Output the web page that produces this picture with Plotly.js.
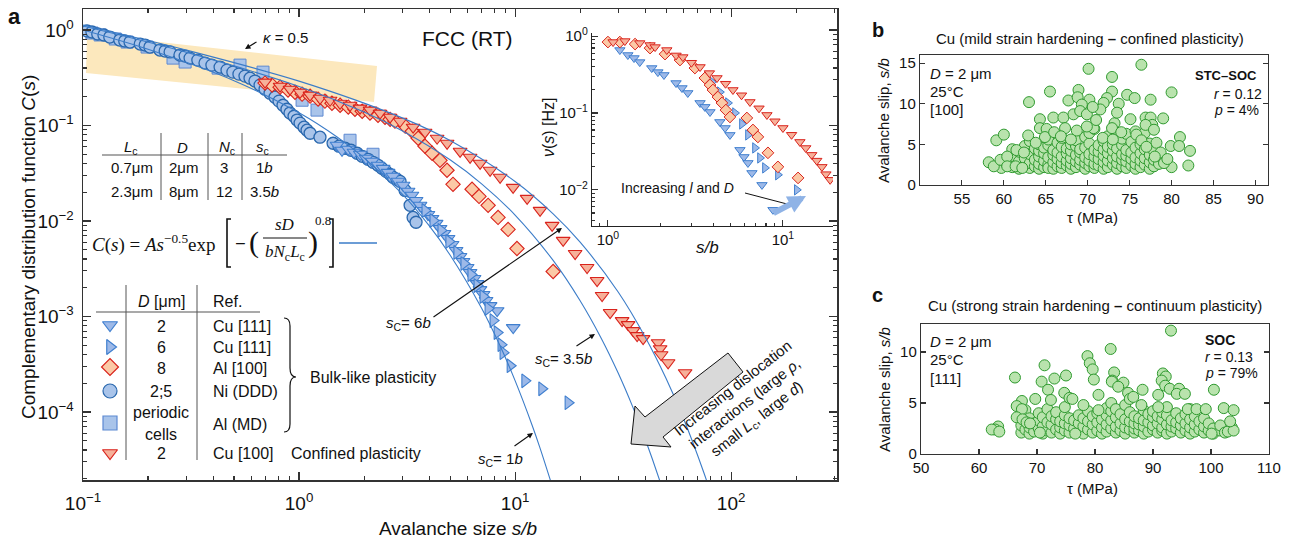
<!DOCTYPE html>
<html><head><meta charset="utf-8">
<script src="https://cdn.plot.ly/plotly-3.0.1.min.js"></script>
<style>html,body{margin:0;padding:0;background:#fff}</style>
</head><body><div id="chart" style="width:1295px;height:543px"></div>
<script>
// ---------------- DATA: panel a (C(s) vs s/b) ----------------
const niDDD_s = [0.1044,0.110,0.117,0.125,0.133,0.148,0.156,0.165,0.184,0.194,0.204,0.227,0.240,0.253,0.281,0.297,0.313,0.340,0.367,0.395,0.431,0.464,0.494,0.527,0.562,0.593,0.625,0.660,0.696,0.734,0.774,0.808,0.843,0.879,0.908,0.948,0.979,1.011,1.055,1.089,1.125,1.25,1.437,1.531,1.633,1.740,1.857,1.960,2.086,2.20,2.321,2.42,2.528,2.64,2.723,2.84,2.935,3.097,3.266,3.372,3.48];
const niDDD_C = [0.976,0.953,0.908,0.887,0.844,0.785,0.767,0.748,0.713,0.696,0.663,0.617,0.602,0.589,0.547,0.533,0.508,0.484,0.451,0.429,0.409,0.380,0.362,0.345,0.329,0.313,0.292,0.265,0.240,0.218,0.198,0.180,0.163,0.148,0.135,0.125,0.114,0.106,0.096,0.0893,0.083,0.0754,0.0652,0.0607,0.0578,0.0551,0.0512,0.0476,0.0443,0.0412,0.0383,0.0356,0.0331,0.0308,0.0287,0.0273,0.0260,0.0209,0.0146,0.0109,0.0097];

const alMD_s = [0.110,0.120,0.141,0.160,0.198,0.261,0.297,0.422,0.533,0.681,1.033,1.211,1.722,2.20];
const alMD_C = [0.93,0.887,0.805,0.748,0.663,0.508,0.462,0.399,0.429,0.362,0.184,0.145,0.0701,0.050];

const cu111D2_s = [1.50,1.581,1.69,1.797,1.92,2.042,2.18,2.321,2.45,2.582,2.72,2.873,3.03,3.196,3.33,3.482,3.63,3.791,3.95,4.128,4.31,4.497,4.69,4.896,5.11,5.333,5.56,5.743,6.00,6.19,6.46,6.672,6.88,7.111,7.34,7.662,8.26,9.80];
const cu111D2_C = [0.0621,0.0551,0.0564,0.0525,0.0500,0.0454,0.0422,0.0383,0.0356,0.0323,0.0294,0.0261,0.0237,0.0205,0.0186,0.0164,0.0146,0.0129,0.0117,0.01064,0.00944,0.00836,0.00741,0.00656,0.00568,0.00491,0.00425,0.00377,0.00326,0.00289,0.0025,0.00221,0.00191,0.0017,0.00147,0.0013,0.00115,0.000765];

const cu111D6_s = [3.83,4.17,4.54,4.94,5.38,5.80,6.25,6.67,7.11,7.50,7.91,8.26,8.61,8.80,9.49,11.1,13.3,17.6];
const cu111D6_C = [0.0129,0.0101,0.00797,0.00611,0.00469,0.00359,0.00275,0.00211,0.00162,0.00121,0.000906,0.000678,0.000507,0.000418,0.000305,0.000212,0.000175,0.000125];

const al100_s = [0.696,0.750,0.817,0.889,0.958,1.033,1.125,1.225,1.318,1.42,1.549,1.69,1.815,1.96,2.13,2.32,2.50,2.64,2.78,3.10,3.34,3.56,3.83,4.13,4.49,4.84,5.16,6.32,6.81,7.50,8.34,9.28,10.2,15.0];
const al100_C = [0.278,0.265,0.252,0.235,0.223,0.213,0.203,0.189,0.180,0.171,0.163,0.156,0.148,0.141,0.135,0.128,0.122,0.116,0.111,0.0984,0.0871,0.0736,0.0607,0.0512,0.0432,0.034,0.0242,0.0215,0.0181,0.0146,0.0109,0.00816,0.00515,0.00296];

const cu100_s = [0.696,0.817,0.908,1.011,1.124,1.251,1.392,1.548,1.722,1.916,2.132,2.371,2.638,2.935,3.372,3.831,4.355,4.845,5.565,6.19,6.887,7.662,8.523,9.79,11.37,13.05,14.84,16.69,18.96,21.54,23.97,25.28,27.54,31.29,33.35,35.18,36.72,39.14,45.92,46.91,47.42,51.08,61.24];
const cu100_C = [0.2845,0.258,0.240,0.223,0.208,0.193,0.184,0.171,0.163,0.152,0.145,0.1346,0.1222,0.1109,0.0960,0.0851,0.0736,0.0652,0.0537,0.0465,0.0402,0.0340,0.0287,0.0225,0.01727,0.01291,0.0090,0.00627,0.00457,0.00326,0.00238,0.00166,0.0011,0.000906,0.000822,0.000711,0.000631,0.000586,0.000532,0.00046,0.000398,0.000328,0.000258];

// fitted curves C(s)=A s^-0.5 exp[-(s/sc)^0.8]
const fit1_s = [0.1,0.2,0.5,1,1.5,2,3,4,5,7,8.5,10,12,13,14.5,15.5];
const fit1_C = [0.999,0.628,0.295,0.136,0.0758,0.0459,0.0192,0.00893,0.00441,0.00122,0.000499,0.000213,0.0000723,0.0000429,0.0000199,0.0000121];
const fit35_s = [0.1,0.3,1,2,3,5,7,10,15,20,25,30,35,40,47,52];
const fit35_C = [1.104,0.587,0.2564,0.1381,0.0882,0.04375,0.02452,0.01154,0.003866,0.001463,0.000597,0.000256,0.0001138,0.0000521,0.00001835,0.0000089];
const fit6_s = [0.1,0.3,1,3,5,10,15,20,30,40,50,60,75,80];
const fit6_C = [1.127,0.617,0.2916,0.1202,0.0697,0.02596,0.0119,0.006015,0.001804,0.00061,0.000224,0.0000869,0.0000227,0.0000147];

// ---------------- DATA: inset nu(s) ----------------
const inCu100_s = [1.07,1.25,1.52,1.74,1.86,2.17,2.45,2.68,3.0,3.36,3.8,4.20,4.7,5.18,5.8,6.48,7.3,8.10,9.0,10.0,11.2,12.5,13.5,14.6,15.6,16.7,17.6,18.6];
const inCu100_v = [0.836,0.861,0.811,0.764,0.719,0.658,0.56,0.533,0.45,0.396,0.33,0.285,0.24,0.199,0.17,0.139,0.115,0.0942,0.078,0.0638,0.052,0.042,0.035,0.0285,0.024,0.0199,0.016,0.0135];
const inAl100_s = [1.0,1.17,1.43,1.74,2.12,2.58,3.14,3.58,3.83,3.98,4.25,4.48,4.72,4.98,6.22,6.74,7.19,8.21,9.36,12.2];
const inAl100_v = [0.836,0.836,0.787,0.698,0.583,0.488,0.384,0.285,0.231,0.199,0.161,0.135,0.109,0.0887,0.0861,0.0601,0.0488,0.0303,0.0199,0.0143];
const inCuD2_s = [1.17,1.30,1.41,1.52,1.78,1.93,2.09,2.45,2.65,2.86,3.36,3.58,3.83,4.36,4.67,4.98,5.68,5.99,6.31,6.65,7.59,8.77];
const inCuD2_v = [0.658,0.567,0.518,0.459,0.384,0.34,0.312,0.245,0.211,0.182,0.135,0.12,0.103,0.0764,0.0638,0.0518,0.0331,0.0268,0.0224,0.0166,0.0116,0.0055];
const inCuD6_s = [3.93,4.36,4.85,5.32,5.83,6.31,6.92,7.39,7.89,9.36,12.0];
const inCuD6_v = [0.253,0.187,0.135,0.100,0.0720,0.0518,0.0351,0.0260,0.0193,0.0157,0.01];

// ---------------- DATA: panel b ----------------
const bTau = [76.4,70.1,72.9,65.5,68.9,72.9,80.0,74.7,75.6,63.0,
 67.7,68.8,70.2,72.3,73.7,77.5,69.3,71.9,65.9,64.3,
 67.1,68.3,69.1,69.9,71.5,75.1,76.9,77.5,79.0,77.7,
 76.9,77.9,70.7,73.2,72.9,67.3,64.3,65.1,68.7,69.9,
 59.1,60.0,62.9,64.9,81.0,79.9,80.9,82.2,82.0,80.0,
 79.1,58.2,58.8,59.6,60.4,60.4,61.4,62.2,70.6,71.0,
 73.5,74.0,75.8,66.0,63.8,61.5,62.4,66.8,68.0,71.8,
 73.0,76.4,78.2,77.0,78.7,79.5,78.0];
const bSlip = [14.8,14.3,13.3,11.5,11.7,11.5,11.4,11.1,10.7,10.2,
 10.4,10.8,10.5,10.7,10.0,10.5,9.9,10.1,8.3,8.1,
 8.3,8.7,9.1,8.7,9.3,8.1,8.3,8.3,8.2,7.4,
 7.4,6.8,7.0,7.6,7.0,7.0,7.0,6.9,6.7,7.2,
 5.5,6.2,6.1,5.9,5.9,4.8,4.8,4.2,2.4,2.2,
 2.7,2.8,2.3,3.1,3.5,2.3,2.3,2.1,9.6,8.0,
 8.9,6.5,6.2,6.5,5.2,4.3,4.0,6.0,5.6,5.8,
 5.6,5.5,5.2,4.7,4.0,3.2,3.5];
const bDenseTau = [61.0,61.8,62.5,63.1,63.7,64.2,64.8,65.3,65.9,66.4,66.9,67.5,68.0,68.6,69.1,69.7,70.2,70.8,71.3,71.9,72.4,73.0,73.5,74.1,74.6,75.2,75.7,76.3,76.8,77.4,77.9,78.5,59.7,60.3];
const bDenseSlip = [[2.2,3.6,4.4],[2.0,2.9,4.1],[2.4,3.3,4.8],[2.1,2.7,3.8,5.4],[2.3,3.1,4.5],[2.0,2.6,3.5,4.2,5.0],[2.2,3.0,3.9,4.6],[2.5,2.1,3.4,4.9,5.6],[2.0,2.8,3.7,4.3],[2.3,3.2,4.0,5.2],[2.1,2.7,3.5,4.7,5.8],[2.4,3.0,3.9,4.5],[2.0,2.6,3.3,4.2,5.0],[2.2,2.9,3.7,4.8,5.5],[2.5,3.1,4.0,4.4],[2.0,2.7,3.4,4.6,5.9],[2.3,3.0,3.8,5.1,6.4],[2.1,2.6,3.5,4.3,6.9],[2.4,3.2,4.1,4.9],[2.0,2.8,3.6,4.4,5.4],[2.2,3.0,3.9,4.7,6.0],[2.5,3.3,4.2,5.0],[2.0,2.7,3.5,4.5,6.2],[2.3,3.1,3.8,4.9,5.7],[2.1,2.9,3.6,4.3,6.3],[2.4,3.2,4.0,5.3],[2.0,2.6,3.4,4.6,6.6],[2.2,3.0,3.9,5.0,5.9],[2.5,3.3,4.4,6.4],[2.0,2.8,3.7,5.1],[2.3,3.1,4.2],[2.6,3.6],[2.1],[2.6]];

// ---------------- DATA: panel c ----------------
const cTau = [93.1,82.7,78.7,79.1,79.6,79.8,71.3,66.2,70.8,73.0,
 75.0,83.3,83.0,82.9,84.9,91.7,92.2,91.5,92.1,84.0,
 71.9,100.5,92.9,94.5,94.1,95.5,90.9,85.7,86.0,86.6,
 88.2,80.6,74.7,75.6,76.1,69.7,67.4,72.4,66.5,67.4,
 78.0,80.6,88.0,90.9,96.0,97.5,99.1,102.2,103.9,63.3,
 62.8,62.2,63.5,66.5,67.5,68.2,68.8,76.6,70.5,100.1,
 102.9,103.9,103.3];
const cSlip = [12.1,10.3,9.6,8.9,8.3,7.3,8.7,7.5,7.1,7.4,
 7.7,8.0,7.2,7.1,7.0,7.9,7.6,7.2,6.7,6.6,
 6.3,6.3,6.4,6.4,5.9,5.9,5.8,6.0,5.4,5.6,
 6.3,5.8,6.0,5.5,5.4,5.4,5.2,5.3,4.7,4.4,
 4.8,4.3,4.8,4.6,4.4,4.4,4.4,4.5,4.3,2.7,
 2.4,2.4,2.2,3.6,3.4,3.1,3.0,2.0,2.1,2.0,
 2.2,2.3,3.2];
const cDenseTau = [67.3,68.0,68.7,69.5,70.3,71.0,71.8,72.5,73.3,74.0,74.8,75.6,76.4,77.2,78.0,78.8,79.6,80.4,81.2,82.0,82.8,83.6,84.4,85.2,86.0,86.8,87.6,88.4,89.2,90.0,90.8,91.6,92.4,93.2,94.0,94.8,95.6,96.4,97.2,98.0,98.8,99.6,100.4,101.6,102.4,103.6];
const cDenseSlip = [[2.1,2.8,3.8],[2.4,3.2,4.3],[2.0,2.6,3.5],[2.2,3.0],[2.5,3.3,4.0],[2.0,2.7,3.6],[2.3,3.1,4.4],[2.1,2.9,3.7],[2.4,3.4,4.1],[2.0,2.6,3.2],[2.3,3.0,3.8,4.6],[2.1,2.8,3.5],[2.5,3.3],[2.2,3.0,3.8],[2.0,2.7,3.5],[2.4,3.2,4.2],[2.1,2.9,3.7],[2.3,3.1,4.0],[2.0,2.6,3.4],[2.2,2.9,3.8,4.5],[2.5,3.3,4.2,5.0],[2.1,2.7,3.6,4.4],[2.3,3.0,3.9],[2.0,2.6,3.4,4.8],[2.4,3.2,4.1],[2.1,2.5,3.0,3.7],[2.3,2.9,3.5],[2.0,2.7,3.3,4.3],[2.2,3.1,3.9],[2.4,2.8,3.6,4.2],[2.1,3.0,3.7],[2.3,2.6,3.4,4.1],[2.0,2.9,3.8,4.6],[2.2,2.7,3.3],[2.5,3.1,4.0],[2.1,2.8,3.5],[2.3,3.0,3.9],[2.0,2.6,3.4,4.4],[2.2,2.9,3.7],[2.4,3.2],[2.1,2.7,3.5],[2.3,3.0],[2.0,2.5],[2.3,2.8],[2.1],[2.6]];

// ---------------- helpers ----------------
const W=1295,H=543;
const FONT='Liberation Sans, Arial, Helvetica, sans-serif';
const SERIF='Liberation Serif, DejaVu Serif, Times New Roman, serif';
const fx=x=>x/W, fy=y=>1-y/H;
function flat(taus, lists){const x=[],y=[];taus.forEach((t,i)=>lists[i].forEach(v=>{x.push(t);y.push(v);}));return [x,y];}
function mk(x,y,xa,ya,sym,size,fill,edge,lw){return {type:'scatter',mode:'markers',x:x,y:y,xaxis:xa,yaxis:ya,marker:{symbol:sym,size:size,color:fill,line:{color:edge,width:lw||1}},hoverinfo:'skip'};}
function fitLine(x,y){return {type:'scatter',mode:'lines',x:x,y:y,xaxis:'x',yaxis:'y',line:{color:'#3b7cc8',width:1.1,shape:'spline',smoothing:0.9},hoverinfo:'skip'};}
function logMinor(a,b){const v=[];for(let e=a;e<=b;e++)for(let m=2;m<=9;m++)v.push(m*Math.pow(10,e));return v;}

const C_BLUEFILL='#a9c4ea', C_CIRC='#2a68ae', C_TRI='#3f7fcf', C_SQ='#5d89d2';
const C_RED='#d9231c', C_DIA='#fbc9a6', C_RTRI='#f6b19a';
const G_FILL='#b9e3ad', G_EDGE='#2f9a2f';

const traces=[
 mk(alMD_s,alMD_C,'x','y','square',12,C_BLUEFILL,C_SQ,1),
 mk(niDDD_s,niDDD_C,'x','y','circle',12,C_BLUEFILL,C_CIRC,1.3),
 mk(cu111D2_s,cu111D2_C,'x','y','triangle-down',12,'#9db9e8',C_TRI,1.1),
 mk(cu111D6_s,cu111D6_C,'x','y','triangle-right',12,'#9db9e8',C_TRI,1.1),
 mk(al100_s,al100_C,'x','y','diamond',11,C_DIA,C_RED,1.1),
 mk(cu100_s,cu100_C,'x','y','triangle-down',12,C_RTRI,C_RED,1.1),
 fitLine(fit1_s,fit1_C), fitLine(fit35_s,fit35_C), fitLine(fit6_s,fit6_C),
 // inset
 mk(inCuD2_s,inCuD2_v,'x2','y2','triangle-down',9,'#9db9e8',C_TRI,1),
 mk(inCuD6_s,inCuD6_v,'x2','y2','triangle-right',9,'#9db9e8',C_TRI,1),
 mk(inAl100_s,inAl100_v,'x2','y2','diamond',9,C_DIA,C_RED,1),
 mk(inCu100_s,inCu100_v,'x2','y2','triangle-down',9,C_RTRI,C_RED,1),
];
const bD=flat(bDenseTau,bDenseSlip), cD=flat(cDenseTau,cDenseSlip);
traces.push(mk(bD[0].concat(bTau),bD[1].concat(bSlip),'x3','y3','circle',11,G_FILL,G_EDGE,1));
traces.push(mk(cD[0].concat(cTau),cD[1].concat(cSlip),'x4','y4','circle',11,G_FILL,G_EDGE,1));

// legend key symbols (overlay axis in pixel units)
const keyX=[110,110,110,110,110,110], keyY=[325,347,367,391,423,453];
const keySym=['triangle-down','triangle-right','diamond','circle','square','triangle-down'];
const keyFill=['#9db9e8','#9db9e8',C_DIA,C_BLUEFILL,C_BLUEFILL,C_RTRI];
const keyEdge=[C_TRI,C_TRI,C_RED,C_CIRC,C_SQ,C_RED];
keyX.forEach((x,i)=>traces.push(mk([x],[keyY[i]],'x5','y5',keySym[i],keySym[i]==='circle'||keySym[i]==='square'?14:13,keyFill[i],keyEdge[i],1.2)));

// ---------------- annotations ----------------
function T(text,x,y,size,o){return Object.assign({text:text,x:fx(x),y:fy(y),xref:'paper',yref:'paper',showarrow:false,xanchor:'center',yanchor:'middle',font:{family:FONT,size:size,color:'#111'}},o||{});}
function A(hx,hy,tx,ty,o){return Object.assign({text:'',x:fx(hx),y:fy(hy),xref:'paper',yref:'paper',ax:tx-hx,ay:ty-hy,showarrow:true,arrowhead:2,arrowsize:1,arrowwidth:1.1,arrowcolor:'#111'},o||{});}
const L={xanchor:'left'};
const ann=[
 T('<b>a</b>',14,16,22),
 T('FCC (RT)',467,38,21),
 T('<i>κ</i> = 0.5',285,37,15),
 A(245,49,258,41),
 // table Lc D Nc sc
 T('<i>L</i><sub>c</sub>',131,147,15), T('<i>D</i>',182,147,15), T('<i>N</i><sub>c</sub>',227,147,15), T('<i>s</i><sub>c</sub>',262,147,15),
 T('0.7μm',132,167,15), T('2μm',183,167,15), T('3',224,167,15), T('1<i>b</i>',264,167,15),
 T('2.3μm',132,191,15), T('8μm',183,191,15), T('12',224,191,15), T('3.5<i>b</i>',264,191,15),
 // formula
 T('<i>C</i>(<i>s</i>) = <i>As</i><sup>−0.5</sup>exp',90,244,19,{xanchor:'left',font:{family:SERIF,size:19,color:'#111'}}),
 T('<b>−</b>',240,244,19,{font:{family:SERIF,size:19,color:'#111'}}),
 T('(',254,242,30,{font:{family:SERIF,size:30,color:'#111'}}),
 T('<i>sD</i>',285,225,17,{font:{family:SERIF,size:17,color:'#111'}}),
 T('<i>bN</i><sub>c</sub><i>L</i><sub>c</sub>',285,253,17,{font:{family:SERIF,size:17,color:'#111'}}),
 T(')',313,242,30,{font:{family:SERIF,size:30,color:'#111'}}),
 T('0.8',323,221,13,{font:{family:SERIF,size:13,color:'#111'}}),
 // legend table
 T('<i>D</i> [μm]',161,301,16), T('Ref.',211,301,16,L),
 T('2',161,326,16), T('Cu [111]',211,326,16,L),
 T('6',161,347,16), T('Cu [111]',211,347,16,L),
 T('8',161,368,16), T('Al [100]',211,368,16,L),
 T('2;5',161,391,16), T('Ni (DDD)',211,391,16,L),
 T('periodic',161,413,16), T('cells',161,434,16), T('Al (MD)',211,424,16,L),
 T('2',161,453,16), T('Cu [100]',211,453,16,L),
 T('Confined plasticity',289,453,16,L),
 T('Bulk-like plasticity',308,377,16,L),
 // s_c labels
 T('<i>s</i><sub>C</sub>= 6<i>b</i>',408,323,15), A(562,228,432,318),
 T('<i>s</i><sub>C</sub>= 3.5<i>b</i>',563,359,15), A(595,334,575,347),
 T('<i>s</i><sub>C</sub>= 1<i>b</i>',500,459,15), A(533,433,513,447),
 T('Increasing dislocation<br>interactions (large <i>ρ</i>,<br>small <i>L</i><sub>c</sub>, large <i>d</i>)',745,404,15,{textangle:-38}),
 // axis titles panel a
 T('Avalanche size <i>s/b</i>',458,528,19),
 T('Complementary distribution function <i>C</i>(<i>s</i>)',28,247,19,{textangle:-90}),
 // inset
 T('<i>ν</i>(<i>s</i>) [Hz]',549,127,16,{textangle:-90}),
 T('<i>s/b</i>',707,247,17),
 T('Increasing <i>l</i> and <i>D</i>',677,188,14),
 A(806,196,772,214,{arrowcolor:'#8fb3e6',arrowwidth:6,arrowsize:0.6,arrowhead:2}),
 // panel b
 T('<b>b</b>',878,30,20),
 T('Cu (mild strain hardening <b>–</b> confined plasticity)',1090,38,15),
 T('<i>D</i> = 2 μm',928,73,15,L), T('25°C',928,91,15,L), T('[100]',928,109,15,L),
 T('<b>STC–SOC</b>',1193,76,13,L), T('<i>r</i> = 0.12',1212,94,14,L), T('<i>p</i> = 4%',1212,110,14,L),
 T('Avalanche slip, <i>s/b</i>',884,121,15,{textangle:-90}),
 T('τ (MPa)',1092,217,15),
 // panel c
 T('<b>c</b>',877,295,20),
 T('Cu (strong strain hardening <b>–</b> continuum plasticity)',1095,305,15),
 T('<i>D</i> = 2 μm',928,341,15,L), T('25°C',928,359,15,L), T('[111]',928,378,15,L),
 T('<b>SOC</b>',1203,340,14,L), T('<i>r</i> = 0.13',1203,357,14,L), T('<i>p</i> = 79%',1203,373,14,L),
 T('Avalanche slip, <i>s/b</i>',884,390,15,{textangle:-90}),
 T('τ (MPa)',1092,488,15),
];

// ---------------- shapes ----------------
const P=(x,y)=>fx(x).toFixed(5)+','+fy(y).toFixed(5);
function poly(pts,close){return 'M'+pts.map(p=>P(p[0],p[1])).join(' L')+(close?' Z':'');}
function LN(x0,y0,x1,y1,c,w){return {type:'line',xref:'paper',yref:'paper',x0:fx(x0),y0:fy(y0),x1:fx(x1),y1:fy(y1),line:{color:c||'#333',width:w||1}};}
const shapes=[
 {type:'path',xref:'paper',yref:'paper',layer:'below',path:poly([[87,34],[377,66],[374,102],[86,73]],true),fillcolor:'#fce8bd',line:{width:0}},
 LN(102,155,287,155,'#555',1.2), LN(161,133,161,200,'#555',1), LN(208,133,208,200,'#555',1), LN(242,133,242,200,'#555',1),
 LN(96,312,260,312,'#555',1.2), LN(126,285,126,460,'#555',1), LN(197,285,197,460,'#555',1),
 LN(263,238,307,238,'#111',1),
 {type:'path',xref:'paper',yref:'paper',path:poly([[231,219],[227,219],[227,267],[231,267]]),line:{color:'#111',width:1.6}},
 {type:'path',xref:'paper',yref:'paper',path:poly([[329,219],[333,219],[333,267],[329,267]]),line:{color:'#111',width:1.6}},
 LN(339,243,377,243,'#3b7cc8',1.3),
 {type:'path',xref:'paper',yref:'paper',path:'M'+P(284,318)+' Q'+P(290,318)+' '+P(290,326)+' L'+P(290,368)+' Q'+P(290,377)+' '+P(296,377)+' Q'+P(290,377)+' '+P(290,386)+' L'+P(290,424)+' Q'+P(290,432)+' '+P(284,432),line:{color:'#111',width:1.2}},
 {type:'path',xref:'paper',yref:'paper',path:poly([[631,444],[635,406],[645,417],[728,353],[743,372],[663,437],[671,447]],true),fillcolor:'#d9d9d9',line:{color:'#111',width:1}},
 LN(745,193,787,204,'#111',1),
];

// ---------------- axes ----------------
const base={showgrid:false,zeroline:false,showline:true,linecolor:'#333',linewidth:1.2,ticks:'inside',tickcolor:'#333',tickwidth:1.1,color:'#111'};
const layout={
 width:W,height:H,margin:{l:0,r:0,t:0,b:0},paper_bgcolor:'#fff',plot_bgcolor:'rgba(0,0,0,0)',showlegend:false,
 font:{family:FONT,color:'#111'},
 xaxis:Object.assign({},base,{type:'log',domain:[fx(83),fx(837)],range:[-1,2.49],anchor:'y',mirror:'allticks',ticklen:8,linewidth:1.5,
   tickmode:'array',tickvals:[0.1,1,10,100],ticktext:['10<sup>−1</sup>','10<sup>0</sup>','10<sup>1</sup>','10<sup>2</sup>'],tickfont:{size:19,family:FONT},ticklabelstandoff:6,
   minor:{tickmode:'array',tickvals:logMinor(-1,2),ticks:'inside',ticklen:4,tickcolor:'#333'}}),
 yaxis:Object.assign({},base,{type:'log',domain:[fy(480),fy(9)],range:[-4.712,0.22],anchor:'x',mirror:'allticks',ticklen:8,linewidth:1.5,
   tickmode:'array',tickvals:[0.0001,0.001,0.01,0.1,1],ticktext:['10<sup>−4</sup>','10<sup>−3</sup>','10<sup>−2</sup>','10<sup>−1</sup>','10<sup>0</sup>'],tickfont:{size:19,family:FONT},ticklabelstandoff:4,
   minor:{tickmode:'array',tickvals:logMinor(-5,0),ticks:'inside',ticklen:4,tickcolor:'#333'}}),
 xaxis2:Object.assign({},base,{type:'log',domain:[fx(592),fx(833)],range:[-0.091,1.286],anchor:'y2',ticklen:6,linecolor:'#222',
   tickmode:'array',tickvals:[1,10],ticktext:['10<sup>0</sup>','10<sup>1</sup>'],tickfont:{size:15,family:FONT},
   minor:{tickmode:'array',tickvals:logMinor(-1,1),ticks:'inside',ticklen:3,tickcolor:'#333'}}),
 yaxis2:Object.assign({},base,{type:'log',domain:[fy(226),fy(33)],range:[-2.47,0.04],anchor:'x2',ticklen:6,linecolor:'#222',
   tickmode:'array',tickvals:[0.01,0.1,1],ticktext:['10<sup>−2</sup>','10<sup>−1</sup>','10<sup>0</sup>'],tickfont:{size:15,family:FONT},
   minor:{tickmode:'array',tickvals:logMinor(-3,0),ticks:'inside',ticklen:3,tickcolor:'#333'}}),
 xaxis3:Object.assign({},base,{domain:[fx(920),fx(1268)],range:[50,91.5],anchor:'y3',mirror:true,tickmode:'array',tickvals:[55,60,65,70,75,80,85,90],ticklen:5,tickfont:{size:15,family:FONT}}),
 yaxis3:Object.assign({},base,{domain:[fy(185),fy(55)],range:[0,16],anchor:'x3',mirror:'ticks',dtick:5,ticklen:5,tickfont:{size:15,family:FONT}}),
 xaxis4:Object.assign({},base,{domain:[fx(921),fx(1269)],range:[50,110],anchor:'y4',mirror:true,dtick:10,ticklen:5,tickfont:{size:15,family:FONT}}),
 yaxis4:Object.assign({},base,{domain:[fy(454),fy(324)],range:[0,12.75],anchor:'x4',mirror:'ticks',dtick:5,ticklen:5,tickfont:{size:15,family:FONT}}),
 xaxis5:{domain:[0,1],range:[0,W],visible:false,anchor:'y5',fixedrange:true},
 yaxis5:{domain:[0,1],range:[H,0],visible:false,anchor:'x5',fixedrange:true},
 annotations:ann, shapes:shapes
};
Plotly.newPlot('chart',traces,layout,{staticPlot:true,displayModeBar:false});
</script></body></html>
